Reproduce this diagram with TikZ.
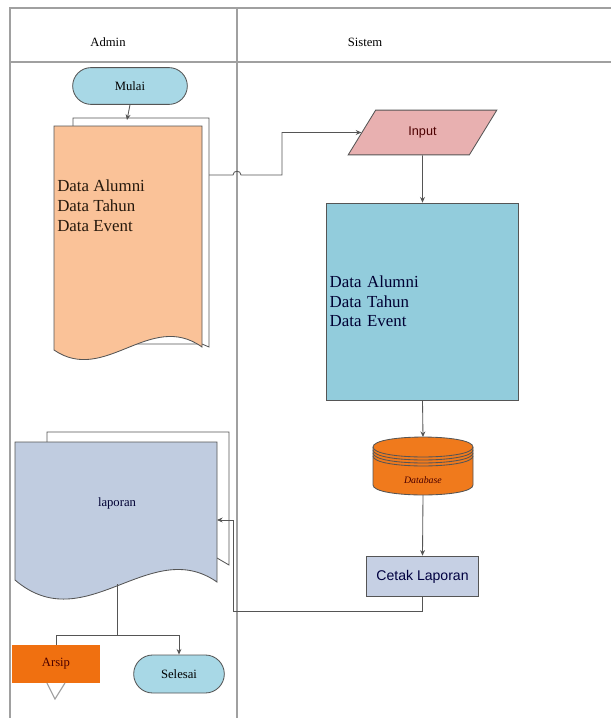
\documentclass[tikz,border=0pt]{standalone}
\usepackage{fontspec}
\setmainfont{Liberation Serif}
\newfontfamily\arialfont{Liberation Sans}
\usetikzlibrary{calc,arrows.meta,shapes.geometric,shapes.misc}

\definecolor{mulaiblue}{RGB}{168,216,230}
\definecolor{docpeach}{RGB}{250,194,152}
\definecolor{inputpink}{RGB}{232,176,176}
\definecolor{boxteal}{RGB}{146,204,220}
\definecolor{dborange}{RGB}{240,122,28}
\definecolor{cetakblue}{RGB}{198,208,228}
\definecolor{lapblue}{RGB}{192,204,224}
\definecolor{arsiporange}{RGB}{240,112,16}
\definecolor{edgegray}{RGB}{85,85,85}
\definecolor{lanegray}{RGB}{160,160,160}

\begin{document}
\begin{tikzpicture}[
  x=0.025cm, y=-0.025cm,
  >={Stealth[length=4pt,width=3.5pt]},
  lane/.style={draw=lanegray, line width=1.4pt},
  flow/.style={draw=edgegray, line width=0.6pt},
  shapeline/.style={draw=edgegray, line width=0.6pt},
  term/.style={shapeline, rounded rectangle, font=\small},
  procbox/.style={shapeline, rectangle, inner sep=2pt},
  doctext/.style={align=left, font=\large, inner sep=0pt},
]
\useasboundingbox (0,0) rectangle (611,718);

% --- Swimlanes ---
\draw[lane] (611,8) -- (10,8) -- (10,718);
\draw[lane] (10,62) -- (611,62);
\draw[lane] (237,8) -- (237,718);
\node (admin) at (108,42) {\small Admin};
\node (sistem) at (365,42) {\small Sistem};

% --- Start ---
\node[term, fill=mulaiblue, minimum width=3.1cm, minimum height=0.92cm] (mulai) at (130,86) {Mulai};

% --- Dokumen Data (zwei Blaetter) ---
\draw[shapeline, fill=white] (73,118) -- (209,118) -- (209,347) -- (202,344) -- (73,344) -- cycle;
\draw[shapeline, fill=docpeach] (54,126) -- (202,126) -- (202,347)
  .. controls (150,310) and (105,385) .. (54,350) -- cycle;
\node[doctext, text=black!80!brown, anchor=north west] (datadoc) at (57,180)
  {Data Alumni\\Data Tahun\\Data Event};
\coordinate (dataIn) at (127,120);
\coordinate (dataOut) at (209,175);

% --- Sistem-Seite ---
\node[shapeline, trapezium, trapezium left angle=62, trapezium right angle=118,
  trapezium stretches, fill=inputpink, minimum width=3.72cm, minimum height=1.12cm,
  font=\arialfont\small, text=black!70!red] (input) at (422.5,132.5) {Input};
\node[procbox, fill=boxteal, minimum width=4.78cm, minimum height=4.92cm,
  text width=4.78cm-4pt, align=left, font=\large, text=black!80!blue] (databox) at (422.5,301.5)
  {Data Alumni\\Data Tahun\\Data Event};

% --- Database (Zylinder) ---
\draw[shapeline, fill=dborange] (373,447) -- (373,485)
  .. controls (373,498.3) and (473,498.3) .. (473,485) -- (473,447)
  .. controls (473,433.7) and (373,433.7) .. (373,447) -- cycle;
\draw[shapeline] (373,447) .. controls (373,460.3) and (473,460.3) .. (473,447);
\foreach \dy in {3,6,9} {
  \draw[shapeline] (373,447+\dy) .. controls (373,460.3+\dy) and (473,460.3+\dy) .. (473,447+\dy);
}
\node[font=\scriptsize\itshape, text=black!70!red] (db) at (423,480) {Database};
\coordinate (dbTop) at (423,437);
\coordinate (dbBottom) at (423,495);

\node[procbox, fill=cetakblue, minimum width=2.78cm, minimum height=1.02cm,
  font=\arialfont, text=black!75!blue] (cetak) at (422.5,576.5) {Cetak Laporan};

% --- Dokumen Laporan (zwei Blaetter) ---
\draw[shapeline, fill=white] (47,432) -- (229,432) -- (229,565) -- (217,558) -- (47,558) -- cycle;
\draw[shapeline, fill=lapblue] (15,442) -- (217,442) -- (217,582)
  .. controls (150,535) and (85,640) .. (15,580) -- cycle;
\node[font=\small, text=black!80!blue] (laporan) at (117,503) {laporan};
\coordinate (lapIn) at (217,520);
\coordinate (lapOut) at (117,584);

% --- Ende: Arsip und Selesai ---
\node[fill=arsiporange, minimum width=2.2cm, minimum height=0.95cm, inner sep=0pt,
  font=\small, text=black!70!red] (arsip) at (56,664) {Arsip};
\draw[draw=lanegray, line width=0.8pt] (47,683) -- (55,699) -- (65,683);
\node[term, fill=mulaiblue, minimum width=2.5cm, minimum height=0.95cm] (selesai) at (179,674) {Selesai};

% --- Verbindungen ---
\draw[flow, ->] (mulai.south) -- (dataIn);
\draw[flow, ->] (dataOut) -- (233,175) .. controls (233,170) and (241,170) .. (241,175)
  -- (282,175) |- (input.west);
\draw[flow, ->] (input.south) -- (databox.north);
\draw[flow, ->] (databox.south) -- (dbTop);
\draw[flow, ->] (dbBottom) -- (cetak.north);
\draw[flow, ->] (cetak.south) |- (233,611) |- (lapIn);
\draw[flow] (lapOut) -- (117,635) -| (arsip.north);
\draw[flow, ->] (117,635) -| (selesai.north);

\end{tikzpicture}
\end{document}
